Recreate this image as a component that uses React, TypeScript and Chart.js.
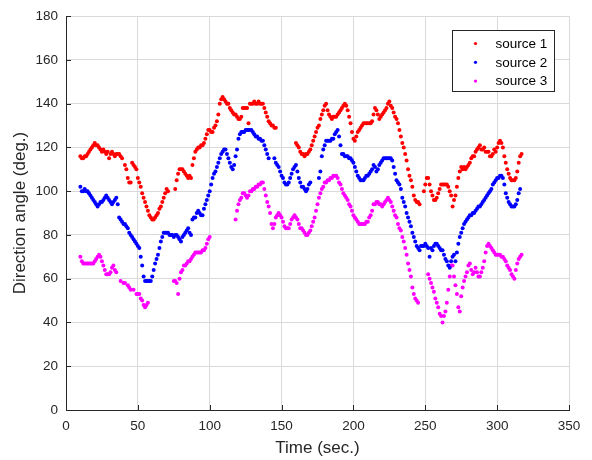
import React, { useEffect, useRef } from "react";
import { Chart, registerables } from "chart.js";

Chart.register(...registerables);

// ---------- data ----------
const xTickValues = [0, 50, 100, 150, 200, 250, 300, 350];
const yTickValues = [0, 20, 40, 60, 80, 100, 120, 140, 160, 180];
const seriesNames = ["source 1", "source 2", "source 3"];
const seriesColors = ["#ff0000", "#0000ff", "#ff00ff"];

const source1Time = [
  10, 11, 12, 13, 14, 15, 16, 17, 18, 19, 20, 21, 22, 23, 24, 25, 26, 27, 28, 29, 30, 31, 32, 33, 34, 35, 36, 37, 38, 39,
  41, 42, 43, 44, 45, 46, 47, 48, 49, 50, 51, 52, 53, 54, 55, 56, 57, 58, 59, 60, 61, 62, 63, 64, 65, 66, 67, 68, 69, 70, 71,
  76, 77, 78, 79, 80, 81, 82, 83, 84, 85, 86, 87, 88, 89, 90, 91, 92, 93, 94, 95, 96, 97, 98, 99, 100, 101, 102, 103, 104, 105,
  106, 107, 108, 109, 110, 111, 112, 113, 114, 115, 116, 117, 118, 119, 120, 121, 122, 123, 124, 125, 126, 127, 128, 129, 130,
  131, 132, 133, 134, 135, 136, 137, 138, 139, 140, 141, 142, 143, 144, 145, 146,
  160, 161, 162, 163, 164, 165, 166, 167, 168, 169, 170, 171, 172, 173, 174, 175, 176, 177, 178, 179, 180, 181, 182, 183, 184,
  185, 186, 187, 188, 189, 190, 191, 192, 193, 194, 195, 196, 197, 198, 199, 200, 201, 202, 203, 204, 205, 206, 207, 208, 209,
  210, 211, 212, 213, 214, 215, 216, 217, 218, 219, 220, 221, 222, 223, 224, 225, 226, 227, 228, 229, 230, 231, 232, 233, 234,
  235, 236, 237, 238, 239, 240, 241, 242, 243, 244, 245, 246,
  249, 250, 251, 252, 253, 254, 255, 256, 257, 258, 259, 260, 261, 262, 263, 264, 265, 266, 267, 268, 269, 270, 271, 272, 273,
  274, 275, 276, 277, 278, 279, 280, 281, 282, 283, 284, 285, 286, 287, 288, 289, 290, 291, 292, 293, 294, 295, 296, 297, 298,
  299, 300, 301, 302, 303, 304, 305, 306, 307, 308, 309, 310, 311, 312, 313, 314, 315, 316, 317,
];
const source1Angle = [
  116, 115, 115, 116, 116, 117, 118, 119, 120, 121, 122, 121, 121, 120, 119, 118, 119, 118, 117, 118, 115, 117, 118, 117, 116, 117, 117, 117, 116, 115,
  112, 110, 106, 104, 104, 113, 112, 111, 110, 106, 104, 102, 99, 97, 95, 93, 91, 89, 88, 87, 87, 88, 89, 90, 92, 93, 95, 97, 99, 101, 100,
  101, 105, 108, 110, 110, 110, 109, 108, 107, 106, 107, 106, 112, 115, 118, 119, 120, 120, 121, 121, 122, 124, 126, 128, 128, 127, 127, 129, 130, 132,
  135, 140, 142, 143, 142, 141, 140, 140, 138, 137, 136, 135, 135, 134, 133, 133, 134, 138, 138, 138, 138, 131, 140, 140, 140,
  141, 140, 140, 141, 140, 140, 140, 138, 136, 134, 132, 131, 130, 130, 129, 129,
  122, 121, 120, 118, 117, 117, 116, 117, 117, 118, 119, 121, 123, 125, 127, 129, 130, 133, 135, 137, 139, 140, 137, 135, 134,
  133, 134, 134, 134, 135, 136, 137, 138, 139, 140, 139, 137, 134, 131, 127, 124, 123, 125, 127, 128, 129, 130, 131, 131, 131,
  131, 131, 131, 132, 135, 138, 137, 135, 133, 134, 135, 136, 137, 138, 140, 141, 139, 138, 136, 134, 133, 131, 128, 125, 122,
  120, 117, 114, 110, 107, 105, 102, 98, 96, 95, 95, 94,
  100, 103, 106, 106, 103, 100, 98, 96, 96, 97, 99, 101, 103, 103, 103, 103, 103, 102, 100, 98, 93, 96, 98, 102, 106,
  109, 111, 110, 111, 110, 111, 112, 113, 115, 116, 116, 118, 119, 120, 121, 119, 119, 120, 118, 118, 118, 116, 116, 117, 119,
  118, 120, 122, 123, 122, 120, 116, 113, 110, 108, 106, 105, 105, 105, 106, 109, 113, 116, 117,
];

const source2Time = [
  10, 11, 12, 13, 14, 15, 16, 17, 18, 19, 20, 21, 22, 23, 24, 25, 26, 27, 28, 29, 30, 31, 32, 33, 34, 35, 36,
  37, 38, 39, 40, 41, 42, 43, 44, 45, 46, 47, 48, 49, 50, 51, 52, 53, 54, 55, 56, 57, 58, 59, 60, 61, 62, 63, 64, 65, 66,
  67, 68, 69, 70, 71, 72, 73, 74, 75, 76, 77, 78, 79, 80, 81, 82, 83, 84, 85, 86, 87, 88, 89, 90, 91, 92, 93, 94, 95, 96,
  97, 98, 99, 100, 101, 102, 103, 104, 105, 106, 107, 108, 109, 110, 111, 112, 113, 114, 115, 116, 117, 118, 119, 120, 121,
  122, 123, 124, 125, 126, 127, 128, 129, 130, 131, 132, 133, 134, 135, 136, 137, 138, 139, 140, 141,
  145, 146, 147, 148, 149, 150, 151, 152, 153, 154, 155, 156, 157, 158, 159, 160, 161, 162, 163, 164, 165, 166, 167, 168, 169, 170,
  176, 177, 178, 179, 180, 181, 182, 183, 184, 185, 186, 187, 188, 189, 190, 191, 192, 193, 194, 195, 196, 197, 198, 199, 200,
  201, 202, 203, 204, 205, 206, 207, 208, 209, 210, 211, 212, 213, 214, 215, 216, 217, 218, 219, 220, 221, 222, 223, 224, 225,
  226, 227, 228, 229, 230, 231, 232, 233, 234, 235, 236, 237, 238, 239, 240, 241, 242, 243, 244, 245, 246, 247, 248, 249, 250,
  251, 252, 253, 254, 255, 256, 257, 258, 259, 260, 261, 262, 263, 264, 265, 266, 267, 268, 269, 270, 271, 272, 273, 274, 275,
  276, 277, 278, 279, 280, 281, 282, 283, 284, 285, 286, 287, 288, 289, 290, 291, 292, 293, 294, 295, 296, 297, 298, 299, 300,
  301, 302, 303, 304, 305, 306, 307, 308, 309, 310, 311, 312, 313, 314, 315, 316,
];
const source2Angle = [
  102, 100, 100, 101, 100, 100, 99, 98, 97, 96, 95, 94, 93, 94, 95, 95, 96, 97, 98, 97, 96, 95, 94, 95, 96, 97, 94,
  88, 87, 86, 85, 85, 84, 83, 81, 80, 79, 78, 77, 76, 75, 74, 70, 66, 61, 59, 59, 59, 59, 59, 61, 64, 67, 69, 71, 74, 77,
  79, 81, 81, 81, 81, 80, 80, 80, 79, 80, 80, 79, 78, 77, 79, 80, 81, 82, 83, 81, 80, 87, 88, 88, 90, 91, 90, 89, 89, 92,
  94, 96, 98, 100, 103, 106, 108, 109, 111, 113, 115, 117, 118, 119, 119, 117, 115, 113, 111, 110, 112, 116, 119, 124, 126,
  127, 127, 127, 128, 128, 128, 128, 128, 127, 126, 125, 125, 124, 124, 123, 123, 121, 119, 117, 115,
  115, 113, 112, 111, 109, 107, 106, 104, 103, 103, 104, 106, 108, 110, 111, 112, 109, 106, 104, 102, 102, 101, 100, 101, 103, 104,
  106, 109, 116, 119, 121, 123, 123, 123, 123, 124, 124, 126, 127, 128, 125, 121, 117, 117, 116, 116, 116, 115, 115, 114, 113,
  111, 109, 107, 106, 105, 105, 105, 106, 107, 107, 108, 109, 110, 112, 111, 109, 110, 112, 113, 114, 115, 115, 115, 115, 115,
  115, 114, 111, 108, 105, 104, 103, 101, 97, 95, 93, 90, 88, 86, 84, 81, 79, 77, 75, 74, 73, 75, 75, 75, 76,
  75, 74, 70, 74, 73, 75, 76, 76, 75, 74, 73, 73, 71, 69, 68, 66, 65, 68, 70, 71, 68, 72, 76, 79, 81,
  83, 85, 86, 87, 88, 89, 89, 90, 90, 91, 92, 93, 93, 94, 95, 96, 97, 98, 99, 100, 101, 103, 104, 105, 106,
  106, 107, 107, 106, 103, 99, 97, 95, 94, 93, 93, 93, 94, 96, 99, 101,
];

const source3Time = [
  10, 11, 12, 13, 14, 15, 16, 17, 18, 19, 20, 21, 22, 23, 24, 25, 26, 27, 28, 29, 30, 31, 32, 33, 34, 35,
  38, 40, 41, 43, 44, 45, 47, 49, 50, 51, 52, 53, 54, 55, 56, 57,
  75, 76, 77, 78, 79, 80, 81, 82, 83, 84, 85, 86, 87, 88, 89, 90, 91, 92, 93, 94, 95, 96, 97, 98, 99, 100,
  118, 119, 120, 121, 122, 123, 124, 125, 126, 127, 128, 129, 130, 131, 132, 133, 134, 135, 136, 137, 138, 139, 140, 141, 142,
  143, 144, 145, 146, 147, 148, 149, 150, 151, 152, 153, 154, 155, 156, 157, 158, 159, 160, 161, 162, 163, 164, 165, 166, 167,
  168, 169, 170, 171, 172, 173, 174, 175, 176, 177, 178, 179, 180, 181, 182, 183, 184, 185, 186, 187, 188, 189, 190, 191, 192,
  193, 194, 195, 196, 197, 198, 199, 200, 201, 202, 203, 204, 205, 206, 207, 208, 209, 210, 211, 212, 213, 214, 215, 216, 217,
  218, 219, 220, 221, 222, 223, 224, 225, 226, 227, 228, 229, 230, 231, 232, 233, 234, 235, 236, 237, 238, 239, 240, 241, 242,
  243, 244, 245,
  252, 253, 254, 255, 256, 257, 258, 259, 260, 261, 262, 263, 264, 265, 266, 267, 268, 269, 270, 271, 272, 273, 274, 275, 276,
  277, 278, 279, 280, 281, 282, 283, 284, 285, 286, 287, 288, 289, 290, 291, 292, 293, 294, 295, 296, 297, 298, 299, 300, 301,
  302, 303, 304, 305, 306, 307, 308, 309, 310, 311, 312, 313, 314, 315, 316, 317,
];
const source3Angle = [
  70, 68, 67, 67, 67, 67, 67, 67, 67, 67, 68, 69, 70, 71, 70, 68, 66, 64, 62, 62, 62, 63, 65, 66, 64, 63,
  59, 58, 58, 57, 56, 55, 55, 53, 53, 53, 51, 50, 48, 47, 48, 49,
  59, 59, 58, 53, 60, 63, 64, 66, 66, 67, 68, 68, 69, 70, 71, 72, 72, 72, 72, 72, 73, 73, 74, 76, 78, 79,
  87, 91, 94, 96, 97, 99, 99, 98, 97, 98, 100, 100, 101, 101, 102, 102, 103, 103, 104, 104, 101, 98, 95, 93, 90,
  85, 83, 85, 88, 89, 90, 89, 88, 86, 84, 83, 83, 83, 85, 87, 88, 89, 88, 87, 85, 83, 83, 82, 81, 80,
  80, 81, 82, 84, 86, 88, 91, 94, 97, 99, 101, 102, 104, 104, 105, 105, 106, 106, 107, 107, 107, 106, 104, 103, 101,
  99, 98, 97, 96, 94, 93, 91, 89, 88, 87, 86, 85, 85, 85, 85, 85, 86, 86, 88, 89, 91, 94, 94, 95, 95,
  94, 94, 93, 94, 95, 96, 97, 96, 95, 93, 91, 89, 88, 85, 83, 82, 79, 77, 74, 71, 67, 64, 61, 56, 53,
  51, 50, 49,
  62, 60, 58, 56, 54, 51, 49, 47, 44, 43, 40, 43, 45, 49, 55, 61, 66, 66, 61, 57, 53, 47, 45, 52, 56,
  59, 61, 63, 66, 67, 64, 62, 63, 65, 63, 61, 61, 63, 65, 68, 72, 75, 76, 75, 74, 73, 72, 71, 71, 71,
  71, 70, 70, 69, 68, 66, 65, 64, 62, 61, 60, 64, 67, 69, 70, 71,
];

// ---------- helpers ----------
const FONT = "'Liberation Sans', Arial, Helvetica, sans-serif";
const AXIS_COLOR = "#262626";
const GRID_COLOR = "#d9d9d9";

function toPoints(times: number[], values: number[]) {
  return times.map((t, i) => ({ x: t, y: values[i] }));
}

const inwardTicksPlugin = {
  id: "inwardTicks",
  afterDatasetsDraw(chart: any) {
    const { ctx, chartArea, scales } = chart;
    const xs = scales.x;
    const ys = scales.y;
    ctx.save();
    ctx.strokeStyle = AXIS_COLOR;
    ctx.lineWidth = 1;
    ctx.beginPath();
    xTickValues.forEach((v) => {
      const px = Math.round(xs.getPixelForValue(v)) + 0.5;
      ctx.moveTo(px, chartArea.bottom);
      ctx.lineTo(px, chartArea.bottom - 5);
    });
    yTickValues.forEach((v) => {
      const py = Math.round(ys.getPixelForValue(v)) + 0.5;
      ctx.moveTo(chartArea.left, py);
      ctx.lineTo(chartArea.left + 5, py);
    });
    ctx.stroke();
    ctx.restore();
  },
};

const boxLegendPlugin = {
  id: "boxLegend",
  afterDraw(chart: any) {
    const { ctx, chartArea } = chart;
    const w = 102;
    const h = 61;
    const left = Math.round(chartArea.right - 117) + 0.5;
    const top = Math.round(chartArea.top + 14) + 0.5;
    ctx.save();
    ctx.fillStyle = "#ffffff";
    ctx.fillRect(left, top, w, h);
    ctx.strokeStyle = AXIS_COLOR;
    ctx.lineWidth = 1;
    ctx.strokeRect(left, top, w, h);
    ctx.font = `13.5px ${FONT}`;
    ctx.textBaseline = "middle";
    ctx.textAlign = "left";
    seriesNames.forEach((name, i) => {
      const cy = top + 13 + i * 18.8;
      ctx.fillStyle = seriesColors[i];
      ctx.beginPath();
      ctx.arc(left + 23, cy, 1.6, 0, Math.PI * 2);
      ctx.fill();
      ctx.fillStyle = "#000000";
      ctx.fillText(name, left + 43, cy + 0.5);
    });
    ctx.restore();
  },
};

export default function App() {
  const canvasRef = useRef<HTMLCanvasElement | null>(null);

  useEffect(() => {
    if (!canvasRef.current) return;
    const allSeries = [
      toPoints(source1Time, source1Angle),
      toPoints(source2Time, source2Angle),
      toPoints(source3Time, source3Angle),
    ];
    const chart = new Chart(canvasRef.current, {
      type: "scatter",
      data: {
        datasets: allSeries.map((pts, i) => ({
          label: seriesNames[i],
          data: pts,
          backgroundColor: seriesColors[i],
          borderColor: seriesColors[i],
          pointRadius: 2,
          pointBorderWidth: 0,
          pointHoverRadius: 0,
        })),
      },
      options: {
        animation: false,
        responsive: false,
        events: [],
        layout: { padding: { top: 14, right: 23, left: 0, bottom: 0 } },
        plugins: {
          legend: { display: false },
          tooltip: { enabled: false },
        },
        scales: {
          x: {
            type: "linear",
            min: 0,
            max: 350,
            afterFit: (scale: any) => {
              scale.height = 50;
            },
            afterBuildTicks: (scale: any) => {
              scale.ticks = xTickValues.map((v) => ({ value: v }));
            },
            ticks: {
              color: AXIS_COLOR,
              font: { family: FONT, size: 13.5 },
              padding: 8,
              maxRotation: 0,
            },
            grid: { color: GRID_COLOR, lineWidth: 1, drawTicks: false },
            border: { display: true, color: AXIS_COLOR, width: 1 },
            title: {
              display: true,
              text: "Time (sec.)",
              color: AXIS_COLOR,
              font: { family: FONT, size: 17 },
              padding: { top: 0, bottom: 1 },
            },
          },
          y: {
            type: "linear",
            min: 0,
            max: 180,
            afterFit: (scale: any) => {
              scale.width = 66;
            },
            afterBuildTicks: (scale: any) => {
              scale.ticks = yTickValues.map((v) => ({ value: v }));
            },
            ticks: {
              color: AXIS_COLOR,
              font: { family: FONT, size: 13.5 },
              padding: 8,
            },
            grid: { color: GRID_COLOR, lineWidth: 1, drawTicks: false },
            border: { display: true, color: AXIS_COLOR, width: 1 },
            title: {
              display: true,
              text: "Direction angle (deg.)",
              color: AXIS_COLOR,
              font: { family: FONT, size: 17 },
              padding: { top: 10, bottom: 0 },
            },
          },
        },
      },
      plugins: [inwardTicksPlugin, boxLegendPlugin],
    });
    return () => chart.destroy();
  }, []);

  return (
    <div style={{ position: "absolute", left: 0, top: 0, width: 592, height: 460, background: "#ffffff" }}>
      <canvas ref={canvasRef} width={592} height={460} style={{ display: "block" }} />
    </div>
  );
}
